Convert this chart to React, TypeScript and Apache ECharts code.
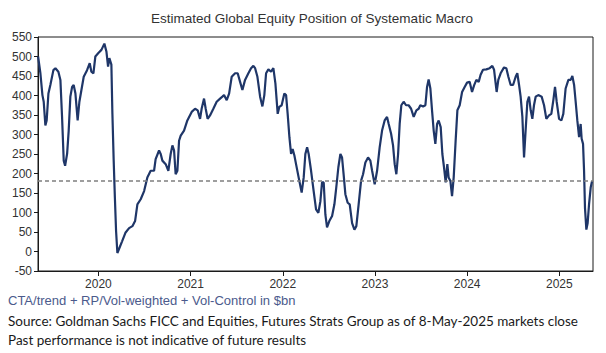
import React, { useEffect, useRef } from "react";
import * as echarts from "echarts";

// decimal years and values ($bn)
const t: number[] = [
  2019.346, 2019.371, 2019.393, 2019.407, 2019.425, 2019.439, 2019.458, 2019.479, 2019.512, 2019.534,
  2019.566, 2019.588, 2019.606, 2019.624, 2019.639, 2019.661, 2019.678, 2019.696, 2019.715, 2019.732,
  2019.751, 2019.775, 2019.794, 2019.816, 2019.841, 2019.877, 2019.906, 2019.924, 2019.946, 2019.967,
  2020.0, 2020.033, 2020.065, 2020.087, 2020.105, 2020.119, 2020.141, 2020.152, 2020.166, 2020.179,
  2020.192, 2020.206, 2020.228, 2020.257, 2020.293, 2020.333, 2020.369, 2020.398, 2020.423, 2020.459,
  2020.496, 2020.531, 2020.567, 2020.604, 2020.621, 2020.658, 2020.676, 2020.694, 2020.73, 2020.759,
  2020.784, 2020.803, 2020.821, 2020.838, 2020.857, 2020.875, 2020.893, 2020.929, 2020.965, 2021.012,
  2021.049, 2021.077, 2021.103, 2021.12, 2021.146, 2021.164, 2021.185, 2021.211, 2021.247, 2021.283,
  2021.32, 2021.345, 2021.363, 2021.392, 2021.418, 2021.446, 2021.483, 2021.511, 2021.537, 2021.562,
  2021.591, 2021.627, 2021.656, 2021.681, 2021.7, 2021.725, 2021.754, 2021.779, 2021.8, 2021.819,
  2021.844, 2021.873, 2021.898, 2021.92, 2021.945, 2021.963, 2021.988, 2022.017, 2022.036, 2022.053,
  2022.072, 2022.09, 2022.107, 2022.126, 2022.144, 2022.172, 2022.205, 2022.227, 2022.245, 2022.264,
  2022.281, 2022.307, 2022.335, 2022.361, 2022.386, 2022.408, 2022.426, 2022.444, 2022.462, 2022.48,
  2022.505, 2022.535, 2022.56, 2022.578, 2022.603, 2022.625, 2022.643, 2022.66, 2022.679, 2022.704,
  2022.726, 2022.752, 2022.777, 2022.798, 2022.823, 2022.849, 2022.871, 2022.896, 2022.925, 2022.95,
  2022.969, 2022.997, 2023.023, 2023.051, 2023.077, 2023.105, 2023.131, 2023.149, 2023.175, 2023.196,
  2023.214, 2023.232, 2023.251, 2023.268, 2023.286, 2023.311, 2023.337, 2023.365, 2023.392, 2023.42,
  2023.449, 2023.474, 2023.492, 2023.522, 2023.547, 2023.565, 2023.582, 2023.601, 2023.619, 2023.637,
  2023.655, 2023.674, 2023.691, 2023.713, 2023.731, 2023.749, 2023.767, 2023.785, 2023.799, 2023.818,
  2023.836, 2023.854, 2023.875, 2023.894, 2023.919, 2023.945, 2023.973, 2023.999, 2024.027, 2024.053,
  2024.075, 2024.1, 2024.125, 2024.146, 2024.172, 2024.208, 2024.244, 2024.273, 2024.292, 2024.309,
  2024.32, 2024.338, 2024.363, 2024.4, 2024.425, 2024.447, 2024.472, 2024.498, 2024.526, 2024.544,
  2024.563, 2024.58, 2024.599, 2024.617, 2024.634, 2024.653, 2024.671, 2024.689, 2024.707, 2024.725,
  2024.743, 2024.772, 2024.808, 2024.834, 2024.859, 2024.888, 2024.913, 2024.935, 2024.953, 2024.971,
  2024.997, 2025.022, 2025.043, 2025.068, 2025.098, 2025.123, 2025.141, 2025.16, 2025.177, 2025.195,
  2025.214, 2025.231, 2025.242, 2025.257, 2025.268, 2025.278, 2025.293, 2025.307, 2025.322, 2025.34,
  2025.355,
];

const v: number[] = [
  500, 457, 401, 384, 323, 336, 405, 427, 465, 470,
  461, 440, 345, 233, 220, 251, 310, 397, 422, 427,
  405, 336, 384, 414, 448, 465, 483, 461, 457, 500,
  509, 517, 533, 513, 474, 496, 479, 354, 233, 138,
  52, -4, 9, 26, 48, 60, 65, 78, 121, 134,
  155, 190, 207, 207, 237, 259, 250, 233, 224, 207,
  250, 272, 259, 198, 207, 284, 297, 310, 336, 358,
  366, 362, 340, 366, 392, 366, 340, 349, 366, 384,
  392, 397, 401, 388, 405, 448, 457, 457, 435, 414,
  440, 457, 470, 476, 470, 448, 397, 372, 401, 457,
  467, 461, 470, 431, 353, 371, 375, 405, 401, 353,
  293, 250, 263, 246, 224, 190, 151, 190, 250, 267,
  250, 207, 155, 108, 99, 129, 177, 177, 95, 62,
  78, 91, 121, 159, 216, 250, 241, 198, 147, 125,
  121, 73, 56, 65, 121, 181, 198, 228, 241, 233,
  207, 172, 207, 267, 310, 336, 345, 327, 302, 272,
  224, 198, 250, 327, 375, 384, 375, 375, 366, 345,
  362, 366, 375, 372, 375, 422, 441, 418, 362, 310,
  276, 327, 336, 319, 250, 216, 177, 224, 190, 181,
  142, 190, 284, 362, 375, 409, 422, 433, 435, 409,
  426, 440, 435, 453, 466, 467, 470, 476, 466, 431,
  409, 440, 457, 472, 470, 448, 427, 427, 448, 457,
  427, 397, 345, 241, 310, 384, 397, 362, 340, 375,
  397, 401, 397, 375, 340, 349, 353, 388, 422, 384,
  340, 336, 353, 418, 440, 440, 450, 427, 384, 336,
  293, 327, 289, 276, 207, 112, 56, 73, 121, 164,
  181,
];

const yearTicks: number[] = [2020, 2021, 2022, 2023, 2024, 2025];
const referenceLevel = 182;

const titleText = "Estimated Global Equity Position of Systematic Macro";
const unitNote = "CTA/trend + RP/Vol-weighted + Vol-Control in $bn";
const sourceNote = "Source: Goldman Sachs FICC and Equities, Futures Strats Group as of 8-May-2025 markets close";
const disclaimer = "Past performance is not indicative of future results";

export default function App() {
  const ref = useRef<HTMLDivElement>(null);
  useEffect(() => {
    if (!ref.current) return;
    const chart = echarts.init(ref.current, undefined, { renderer: "svg" });
    const axisColor = "#1a1a1a";
    const labelFont = "Liberation Sans, Arial, sans-serif";
    chart.setOption({
      animation: false,
      backgroundColor: "#ffffff",
      grid: {
        left: 38,
        right: 13,
        top: 37,
        bottom: 82,
        show: true,
        borderColor: axisColor,
        borderWidth: 1,
      },
      xAxis: {
        type: "value",
        min: 2019.345,
        max: 2025.365,
        axisLine: { show: true, onZero: false, lineStyle: { color: axisColor } },
        splitLine: { show: false },
        axisTick: { show: true, length: 5, customValues: yearTicks, lineStyle: { color: axisColor } },
        axisLabel: {
          customValues: yearTicks,
          formatter: (val: number) => String(Math.round(val)),
          margin: 7,
          fontSize: 12,
          color: "#333",
          fontFamily: labelFont,
        },
      },
      yAxis: {
        type: "value",
        min: -50,
        max: 550,
        interval: 50,
        axisLine: { show: true, onZero: false, lineStyle: { color: axisColor } },
        axisTick: { show: true, length: 4, lineStyle: { color: axisColor } },
        splitLine: { show: false },
        axisLabel: { margin: 6, fontSize: 12, color: "#333", fontFamily: labelFont },
      },
      series: [
        {
          type: "line",
          data: t.map((x, i) => [x, v[i]]),
          showSymbol: false,
          symbol: "none",
          lineStyle: { color: "#1f3668", width: 2.2 },
          markLine: {
            silent: true,
            symbol: "none",
            label: { show: false },
            lineStyle: { type: [4, 3], color: "#7f7f7f", width: 1.5 },
            data: [{ yAxis: referenceLevel }],
          },
          z: 3,
        },
      ],
      graphic: [
        {
          type: "text",
          left: 151,
          top: 11,
          style: { text: titleText, fontSize: 13.5, fill: "#333", fontFamily: labelFont },
        },
        {
          type: "text",
          left: 8,
          top: 294,
          style: { text: unitNote, fontSize: 13, fill: "#4b5a8c", fontFamily: labelFont },
        },
        {
          type: "text",
          left: 8,
          top: 314,
          style: { text: sourceNote, fontSize: 13.5, fill: "#1a1a1a", fontFamily: "Lato, Open Sans, sans-serif" },
        },
        {
          type: "text",
          left: 8,
          top: 333,
          style: { text: disclaimer, fontSize: 13.5, fill: "#1a1a1a", fontFamily: "Lato, Open Sans, sans-serif" },
        },
      ],
    });
    return () => chart.dispose();
  }, []);
  return (
    <div
      ref={ref}
      style={{ position: "fixed", left: 0, top: 0, width: 606, height: 353, background: "#fff" }}
    />
  );
}
